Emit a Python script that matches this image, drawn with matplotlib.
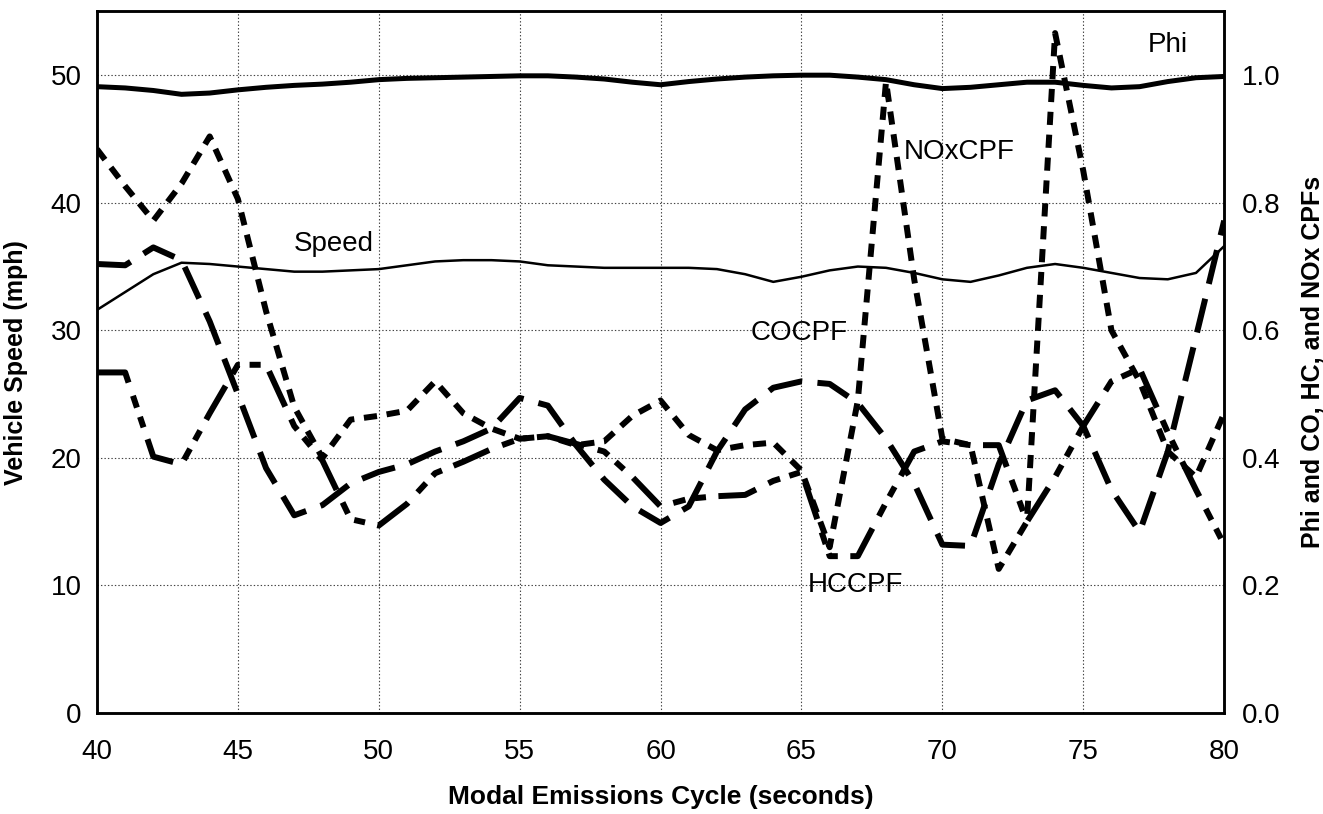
import numpy as np
import matplotlib
matplotlib.use('Agg')
import matplotlib.pyplot as plt

plt.rcParams['font.family'] = ['Liberation Sans', 'DejaVu Sans']
plt.rcParams['lines.scale_dashes'] = False

# time axis (s)
seconds = np.arange(40, 81)

# vehicle speed (mph), left axis
speed = [31.6, 33.0, 34.4, 35.3, 35.2, 35.0, 34.8, 34.6, 34.6, 34.7,
         34.8, 35.1, 35.4, 35.5, 35.5, 35.4, 35.1, 35.0, 34.9, 34.9,
         34.9, 34.9, 34.8, 34.4, 33.8, 34.2, 34.7, 35.0, 34.9, 34.5,
         34.0, 33.8, 34.3, 34.9, 35.2, 34.9, 34.5, 34.1, 34.0, 34.5, 36.6]

# equivalence ratio, right axis
phi = [0.982, 0.980, 0.976, 0.970, 0.972, 0.977, 0.981, 0.984, 0.986, 0.989,
       0.993, 0.995, 0.996, 0.997, 0.998, 0.999, 0.999, 0.997, 0.994, 0.989,
       0.985, 0.990, 0.994, 0.997, 0.999, 1.000, 1.000, 0.997, 0.993, 0.985,
       0.979, 0.981, 0.985, 0.989, 0.989, 0.984, 0.980, 0.982, 0.990, 0.996, 0.998]

# CPFs, right axis
co_cpf = [0.704, 0.702, 0.730, 0.710, 0.614, 0.500, 0.384, 0.310, 0.326, 0.360,
          0.378, 0.390, 0.410, 0.426, 0.446, 0.494, 0.482, 0.420, 0.366, 0.324,
          0.298, 0.324, 0.410, 0.476, 0.510, 0.520, 0.516, 0.486, 0.430, 0.360,
          0.264, 0.262, 0.390, 0.490, 0.506, 0.450, 0.350, 0.284, 0.410, 0.590, 0.772]

hc_cpf = [0.534, 0.534, 0.402, 0.390, 0.470, 0.546, 0.546, 0.450, 0.396, 0.304,
          0.294, 0.328, 0.376, 0.394, 0.414, 0.430, 0.434, 0.422, 0.410, 0.370,
          0.324, 0.336, 0.340, 0.342, 0.364, 0.378, 0.246, 0.246, 0.330, 0.410,
          0.426, 0.420, 0.420, 0.300, 0.370, 0.450, 0.520, 0.540, 0.440, 0.350, 0.264]

nox_cpf = [0.884, 0.826, 0.772, 0.830, 0.904, 0.806, 0.630, 0.480, 0.400, 0.460,
           0.466, 0.474, 0.520, 0.470, 0.446, 0.430, 0.434, 0.420, 0.426, 0.466,
           0.490, 0.436, 0.412, 0.420, 0.424, 0.380, 0.260, 0.490, 0.990, 0.680,
           0.430, 0.420, 0.226, 0.300, 1.066, 0.850, 0.600, 0.520, 0.410, 0.370, 0.470]

fig = plt.figure(figsize=(13.23, 8.14), dpi=100)
ax = fig.add_axes([0.0733, 0.124, 0.852, 0.862])
ax2 = ax.twinx()

ax.set_xlim(40, 80)
ax.set_ylim(0, 55)
ax2.set_ylim(0, 1.1)

ax.set_xticks(range(40, 81, 5))
ax.set_yticks(range(0, 51, 10))
ax2.set_yticks(np.arange(0, 1.01, 0.2))
ax2.set_yticklabels(['%.1f' % v for v in np.arange(0, 1.01, 0.2)])

ax.grid(True, linestyle=(0, (1, 1.5)), color='#444444', linewidth=0.8)
ax.tick_params(axis='x', length=0, pad=19, labelsize=20)
ax.tick_params(axis='y', length=0, pad=11, labelsize=20)
ax2.tick_params(axis='y', length=0, pad=13, labelsize=20)

for a in (ax, ax2):
    for s in a.spines.values():
        s.set_linewidth(1.8)

# lines
ax.plot(seconds, speed, color='black', lw=1.8)
ax2.plot(seconds, phi, color='black', lw=3.6)
ax2.plot(seconds, co_cpf, color='black', lw=4.3, dashes=(25, 11),
         dash_capstyle='butt')
ax2.plot(seconds, hc_cpf, color='black', lw=4.3, dashes=(28, 10, 9, 7, 8, 9),
         dash_capstyle='butt')
ax2.plot(seconds, nox_cpf, color='black', lw=4.3, dashes=(9.5, 7),
         dash_capstyle='butt')

# series labels
lab = dict(fontsize=20, ha='center', va='center')
ax.text(78.0, 52.4, 'Phi', **lab)
ax.text(70.6, 44.0, 'NOxCPF', **lab)
ax.text(48.4, 36.8, 'Speed', **lab)
ax.text(64.9, 29.8, 'COCPF', **lab)
ax.text(66.9, 10.0, 'HCCPF', **lab)

ax.set_xlabel('Modal Emissions Cycle (seconds)', fontsize=19, fontweight='bold')
ax.xaxis.set_label_coords(0.5, -0.103)
ax.set_ylabel('Vehicle Speed (mph)', fontsize=18, fontweight='bold')
ax.yaxis.set_label_coords(-0.061, 0.5)
ax2.set_ylabel('Phi and CO, HC, and NOx CPFs', fontsize=18, fontweight='bold')
ax2.yaxis.set_label_coords(1.068, 0.5)

fig.savefig('out.png', dpi=100)
